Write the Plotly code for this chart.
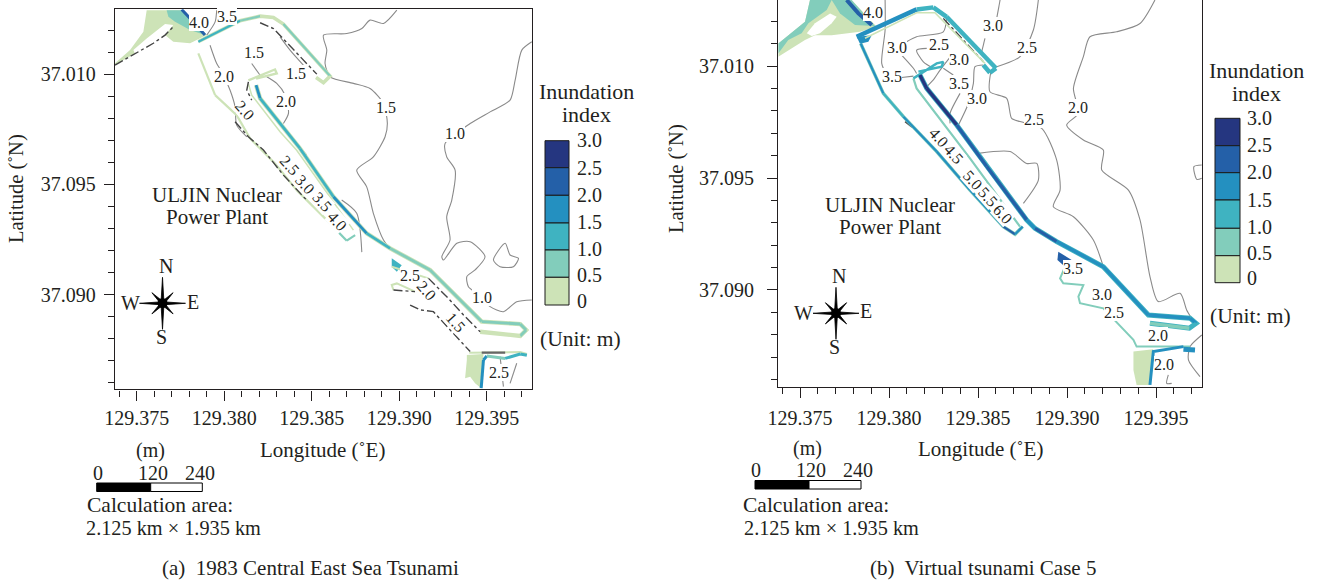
import plotly.graph_objects as go

W, H = 1319, 584
C0, C1, C2, C3, C4, C5 = '#cde3b7', '#82cdbb', '#3fb3c1', '#2490c0', '#2460a8', '#253680'
GREY = '#8a8a8a'
DARK = '#444444'
INK = '#231f20'
SERIF = 'Liberation Serif'

# ---- index legend
LEGEND_COLORS = [C5, C4, C3, C2, C1, C0]
LEGEND_LABELS = ['3.0', '2.5', '2.0', '1.5', '1.0', '0.5', '0']
X_TICKS = [129.375, 129.380, 129.385, 129.390, 129.395]
X_LABELS = ['129.375', '129.380', '129.385', '129.390', '129.395']
Y_TICKS = [37.100, 37.095, 37.090]
Y_LABELS = ['37.010', '37.095', '37.090']

# ---- panel (a): filled areas
A_HARBOR_LON = [129.37376,129.37462,129.37538,129.37557,129.37757,129.37900,129.37805,129.37709,129.37662,129.37709,129.37662,129.37557,129.37481,129.37490,129.37376]
A_HARBOR_LAT = [37.10049,37.10109,37.10192,37.10290,37.10290,37.10177,37.10140,37.10147,37.10177,37.10223,37.10227,37.10162,37.10109,37.10094,37.10041]
A_PATCH_LON = [129.37671,129.37757,129.37890,129.37805,129.37719,129.37681]
A_PATCH_LAT = [37.10290,37.10290,37.10177,37.10200,37.10238,37.10260]
A_SOUTHPATCH_LON = [129.38957,129.39014,129.38986,129.38957]
A_SOUTHPATCH_LAT = [37.09165,37.09134,37.09104,37.09127]
A_BOTTOM_LON = [129.39386,129.39481,129.39468,129.39433,129.39405,129.39376,129.39386]
A_BOTTOM_LAT = [37.08727,37.08731,37.08576,37.08598,37.08628,37.08621,37.08704]

# ---- panel (a): inundated bands
A_BLUE_LON = [129.37757,129.37823,129.37890]
A_BLUE_LAT = [37.10293,37.10238,37.10177]
A_BW_LON = [129.37852,129.38090,129.38205,129.38281,129.38338,129.38605,129.38567,129.38525]
A_BW_LAT = [37.10147,37.10242,37.10263,37.10257,37.10227,37.09991,37.09961,37.09985]
A_BW_COL = [C2,C1,C0,C0,C1,C0,C0]
A_WALL_LON = [129.37852,129.37948,129.38071,129.38148,129.38290,129.38414,129.38586,129.38700,129.38748]
A_WALL_LAT = [37.10094,37.09905,37.09814,37.09708,37.09595,37.09474,37.09338,37.09245,37.09270]
A_WALL_COL = [C0,C0,C0,C0,C0,C0,C1,C1]
A_MAIN_LON = [129.38182,129.38205,129.38433,129.38624,129.38814,129.38948,129.39176,129.39471,129.39691,129.39725,129.39691,129.39462]
A_MAIN_LAT = [37.09950,37.09890,37.09663,37.09444,37.09278,37.09210,37.09112,37.08878,37.08867,37.08840,37.08813,37.08832]
A_MAIN_COL = [C3,C2,C2,C3,C2,C1,C1,C1,C1,C1,C0]
A_HOOK_LON = [129.38138,129.38262,129.38290,129.38300,129.38182]
A_HOOK_LAT = [37.09972,37.10010,37.10021,37.10003,37.09980]
A_INNER_LON = [129.38138,129.38157,129.38319,129.38414,129.38738]
A_INNER_LAT = [37.09957,37.09905,37.09739,37.09655,37.09293]
A_LOWER_LON = [129.39400,129.39691,129.39729]
A_LOWER_LAT = [37.08737,37.08740,37.08731]
A_LOW2_LON = [129.39468,129.39481,129.39500,129.39605,129.39691,129.39729]
A_LOW2_LAT = [37.08576,37.08704,37.08722,37.08711,37.08731,37.08725]
A_LOW2_COL = [C3,C3,C1,C2,C2]
A_S1_LON = [129.38957,129.39014,129.39167]
A_S1_LAT = [37.09127,37.09112,37.09074]
A_S2_LON = [129.38967,129.38957,129.38986,129.39090]
A_S2_LAT = [37.09021,37.09044,37.09051,37.09014]

# ---- panel (a): dark shoreline fragments
A_SHORE_LON = [129.37376,129.37462,129.37595,129.37662,129.37709]
A_SHORE_LAT = [37.10041,37.10079,37.10140,37.10177,37.10215]
A_D1_LON = [129.38205,129.38281,129.38529]
A_D1_LAT = [37.10233,37.10207,37.10000]
A_D2_LON = [129.38062,129.38138,129.38224,129.38338,129.38471]
A_D2_LAT = [37.09784,37.09716,37.09656,37.09542,37.09429]
A_D3_LON = [129.38967,129.39090]
A_D3_LAT = [37.09021,37.09014]
A_D4_LON = [129.39062,129.39119,129.39195,129.39405]
A_D4_LAT = [37.08953,37.08931,37.08923,37.08742]
A_D5_LON = [129.39471,129.39605]
A_D5_LAT = [37.08737,37.08737]
A_D6_LON = [129.38138,129.38129,129.38157]
A_D6_LAT = [37.09965,37.09928,37.09882]
A_D7_LON = [129.39167,129.39281,129.39367,129.39462]
A_D7_LAT = [37.09074,37.08983,37.08908,37.08832]

# ---- panel (a): contour lines
A_C1_LON = [129.37919,129.37957,129.37986,129.38033,129.38062,129.38071,129.38129]
A_C1_LAT = [37.10131,37.10048,37.10011,37.09928,37.09852,37.09769,37.09716]
A_C2_LON = [129.38986,129.38910,129.38833,129.38786,129.38700,129.38567,129.38586,129.38576,129.38605,129.38738,129.38833,129.38910,129.38932,129.38919,129.38852,129.38757,129.38814,129.38852,129.38910,129.38948]
A_C2_LAT = [37.10290,37.10230,37.10245,37.10207,37.10184,37.10177,37.10109,37.10048,37.09988,37.09958,37.09935,37.09867,37.09776,37.09716,37.09625,37.09565,37.09489,37.09369,37.09248,37.09210]
A_C3_LON = [129.39757,129.39700,129.39662,129.39633,129.39519,129.39405,129.39262,129.39271,129.39319,129.39300,129.39271,129.39290,129.39243,129.39252,129.39329,129.39405,129.39490,129.39433,129.39386,129.39395,129.39443,129.39519,129.39595,129.39671,129.39757]
A_C3_LAT = [37.10147,37.10109,37.09973,37.09882,37.09829,37.09776,37.09686,37.09625,37.09565,37.09429,37.09353,37.09248,37.09172,37.09157,37.09233,37.09240,37.09172,37.09112,37.09082,37.09036,37.09006,37.08946,37.08923,37.08968,37.08976]
A_C4_LON = [129.39538,129.39605,129.39633,129.39681,129.39652,129.39576,129.39538]
A_C4_LAT = [37.09157,37.09233,37.09180,37.09165,37.09127,37.09127,37.09157]
A_C5_LON = [129.38157,129.38205]
A_C5_LAT = [37.10048,37.09995]
A_C6_LON = [129.38243,129.38300,129.38348,129.38367,129.38338]
A_C6_LAT = [37.09988,37.09958,37.09905,37.09822,37.09776]
A_C7_LON = [129.38319,129.38376,129.38452]
A_C7_LAT = [37.10169,37.10109,37.10041]
A_C8_LON = [129.38414,129.38471]
A_C8_LAT = [37.09686,37.09633]
A_C9_LON = [129.38671,129.38757,129.38786]
A_C9_LAT = [37.09429,37.09369,37.09193]
A_C10_LON = [129.37900,129.37948,129.37957]
A_C10_LAT = [37.10177,37.10237,37.10290]
A_C11_LON = [129.38052,129.38071]
A_C11_LAT = [37.10237,37.10290]
A_C12_LON = [129.39576,129.39595]
A_C12_LAT = [37.08719,37.08583]
A_C13_LON = [129.39671,129.39633]
A_C13_LAT = [37.08689,37.08598]

# ---- panel (a): contour labels
A_LBL_TEXT = ['4.0','3.5','1.5','2.0','1.5','2.0','1.5','1.0','2.5','1.0','2.5']
A_LBL_LON = [129.37858,129.38014,129.38170,129.37999,129.38409,129.38353,129.38923,129.39319,129.39062,129.39471,129.39567]
A_LBL_LAT = [37.10233,37.10263,37.10097,37.09988,37.10003,37.09875,37.09847,37.09731,37.09089,37.08988,37.08648]
A_ROT_TEXT = ['2.0','2.5','3.0','3.5','4.0','2.0','1.5']
A_ROT_LON = [129.38119,129.38376,129.38462,129.38557,129.38647,129.39157,129.39325]
A_ROT_LAT = [37.09837,37.09588,37.09500,37.09421,37.09331,37.09021,37.08875]

# ---- panel (b): filled areas
B_HARBOR_LON = [129.37378,129.37528,129.37556,129.37790,129.37931,129.37837,129.37678,129.37584,129.37528,129.37378]
B_HARBOR_LAT = [37.10101,37.10198,37.10295,37.10295,37.10175,37.10153,37.10138,37.10138,37.10116,37.10042]
B_PATCH_LON = [129.37678,129.37790,129.37921,129.37809,129.37725]
B_PATCH_LAT = [37.10295,37.10295,37.10179,37.10183,37.10235]
B_PATCH2_LON = [129.37378,129.37528,129.37556,129.37678,129.37650,129.37547,129.37509,129.37434,129.37378]
B_PATCH2_LAT = [37.10101,37.10198,37.10295,37.10295,37.10250,37.10191,37.10146,37.10116,37.10056]
B_ISLAND_LON = [129.37538,129.37584,129.37669,129.37706,129.37678,129.37612,129.37566]
B_ISLAND_LAT = [37.10146,37.10191,37.10235,37.10220,37.10191,37.10146,37.10134]
B_CORNER_LON = [129.37818,129.37903,129.37884,129.37837]
B_CORNER_LAT = [37.10131,37.10138,37.10108,37.10100]
B_SOUTHPATCH_LON = [129.38951,129.39026,129.38989,129.38946]
B_SOUTHPATCH_LAT = [37.09171,37.09134,37.09104,37.09134]
B_BOTTOM_LON = [129.39373,129.39485,129.39466,129.39391,129.39373]
B_BOTTOM_LAT = [37.08725,37.08735,37.08576,37.08576,37.08643]

# ---- panel (b): inundated bands
B_BLUE_LON = [129.37762,129.37828,129.37903]
B_BLUE_LAT = [37.10295,37.10235,37.10183]
B_BW_LON = [129.37818,129.38155,129.38249,129.38324,129.38601,129.38567,129.38530]
B_BW_LAT = [37.10131,37.10253,37.10262,37.10220,37.09990,37.09970,37.10005]
B_BW_COL = [C3,C2,C2,C2,C2,C2]
B_BWIN_LON = [129.37865,129.38155,129.38258,129.38539]
B_BWIN_LAT = [37.10124,37.10238,37.10238,37.10012]
B_WALL_LON = [129.37841,129.37968,129.38081,129.38268,129.38455,129.38642,129.38708,129.38751]
B_WALL_LAT = [37.10101,37.09878,37.09774,37.09618,37.09446,37.09283,37.09249,37.09283]
B_WALL_COL = [C3,C2,C3,C3,C3,C4,C3]
B_MAIN_LON = [129.38174,129.38212,129.38380,129.38549,129.38773,129.38820,129.38942,129.39204,129.39457,129.39691,129.39725,129.39687,129.39466]
B_MAIN_LAT = [37.09960,37.09900,37.09737,37.09551,37.09313,37.09275,37.09216,37.09104,37.08888,37.08874,37.08851,37.08829,37.08851]
B_MAIN_COL = [C5,C5,C4,C4,C3,C4,C3,C3,C3,C3,C2,C1]
B_INNER_LON = [129.38137,129.38155,129.38455,129.38736]
B_INNER_LAT = [37.09945,37.09900,37.09588,37.09283]
B_HOOK_LON = [129.38137,129.38268,129.38305,129.38296,129.38165]
B_HOOK_LAT = [37.09945,37.10012,37.10019,37.09997,37.09975]
B_SHORE_LON = [129.38989,129.38961,129.38979,129.39092,129.39064,129.39073,129.39204,129.39373,129.39391,129.39691]
B_SHORE_LAT = [37.09104,37.09052,37.09030,37.09022,37.08970,37.08941,37.08918,37.08777,37.08747,37.08747]
B_SPOT_LON = [129.39654,129.39719]
B_SPOT_LAT = [37.08735,37.08732]
B_LOW_LON = [129.39466,129.39485,129.39654]
B_LOW_LAT = [37.08576,37.08725,37.08747]

# ---- panel (b): dark fragments
B_D1_LON = [129.38305,129.38530]
B_D1_LAT = [37.10213,37.10019]
B_D2_LON = [129.38090,129.38137]
B_D2_LAT = [37.09752,37.09722]

# ---- panel (b): contour lines
B_C1_LON = [129.37978,129.37978,129.37959,129.37987]
B_C1_LAT = [37.10295,37.10161,37.10012,37.09960]
B_C2_LON = [129.38071,129.38137]
B_C2_LAT = [37.09949,37.09955]
B_C3_LON = [129.38071,129.38137,129.38155]
B_C3_LAT = [37.10049,37.09990,37.09967]
B_C4_LON = [129.38099,129.38155,129.38305,129.38324]
B_C4_LAT = [37.10109,37.10131,37.10153,37.10220]
B_C5_LON = [129.38212,129.38155,129.38193,129.38249]
B_C5_LAT = [37.10079,37.10071,37.10019,37.09990]
B_C6_LON = [129.38212,129.38249,129.38287,129.38352]
B_C6_LAT = [37.09908,37.09938,37.09982,37.10049]
B_C7_LON = [129.38305,129.38361]
B_C7_LAT = [37.09990,37.09960]
B_C8_LON = [129.38399,129.38343,129.38343]
B_C8_LAT = [37.09878,37.09789,37.09744]
B_C9_LON = [129.38624,129.38605]
B_C9_LAT = [37.10295,37.10213]
B_C10_LON = [129.38539,129.38521]
B_C10_LAT = [37.10124,37.10064]
B_C11_LON = [129.38530,129.38483,129.38474,129.38446,129.38390]
B_C11_LAT = [37.10005,37.09997,37.09923,37.09833,37.09737]
B_C12_LON = [129.38839,129.38811,129.38736,129.38605]
B_C12_LAT = [37.10295,37.10161,37.10042,37.09997]
B_C13_LON = [129.38571,129.38567,129.38661,129.38689,129.38736,129.38858,129.38942,129.38961,129.38923,129.39036,129.39148,129.39204]
B_C13_LAT = [37.09970,37.09885,37.09856,37.09766,37.09752,37.09722,37.09580,37.09446,37.09372,37.09327,37.09223,37.09104]
B_C14_LON = [129.39494,129.39410,129.39279,129.39129,129.39092,129.39036,129.39064,129.38998,129.39092,129.39204,129.39195,129.39345,129.39410,129.39466,129.39513,129.39635,129.39672,129.39700]
B_C14_LAT = [37.10295,37.10190,37.10153,37.10131,37.10042,37.09900,37.09789,37.09737,37.09670,37.09625,37.09536,37.09446,37.09313,37.09060,37.08948,37.08985,37.08911,37.08874]
B_C15_LON = [129.38502,129.38680,129.38773,129.38830,129.38839,129.38755]
B_C15_LAT = [37.09610,37.09618,37.09565,37.09565,37.09491,37.09387]
B_C16_LON = [129.39757,129.39713,129.39729,129.39757]
B_C16_LAT = [37.09558,37.09551,37.09494,37.09499]
B_C17_LON = [129.39757,129.39691,129.39682,129.39747]
B_C17_LAT = [37.08799,37.08747,37.08688,37.08613]
B_C18_LON = [129.39569,129.39560,129.39588]
B_C18_LAT = [37.08621,37.08583,37.08583]

# ---- panel (b): contour labels
B_LBL_TEXT = ['4.0','3.0','3.0','2.5','2.5','3.0','3.5','3.5','3.0','2.0','2.5','3.5','3.0','2.5','2.0','2.0']
B_LBL_LON = [129.37908,129.38586,129.38043,129.38281,129.38773,129.38393,129.38015,129.38393,129.38496,129.39060,129.38816,129.39032,129.39195,129.39264,129.39509,129.39545]
B_LBL_LAT = [37.10238,37.10179,37.10083,37.10097,37.10083,37.10030,37.09955,37.09920,37.09853,37.09815,37.09762,37.09097,37.08978,37.08900,37.08795,37.08665]
B_ROT_TEXT = ['4.0','4.5','5.0','5.5','6.0']
B_ROT_LON = [129.38281,129.38367,129.38474,129.38554,129.38642]
B_ROT_LAT = [37.09682,37.09607,37.09491,37.09417,37.09339]

# ---- scale bar and text
SCALE_LABELS = ['0', '120', '240']

fig = go.Figure()


def fx(x):
    return x / W


def fy(y):
    return 1 - y / H


def line(ax, lon, lat, color, width, dash='solid', shape='linear'):
    ln = dict(color=color, width=width, dash=dash, shape=shape)
    if shape == 'spline':
        ln['smoothing'] = 0.7
    fig.add_trace(go.Scatter(x=lon, y=lat, mode='lines', xaxis='x' + ax, yaxis='y' + ax,
                             line=ln, hoverinfo='skip', showlegend=False))


def segs(ax, lon, lat, cols, width):
    for i, c in enumerate(cols):
        line(ax, lon[i:i + 2], lat[i:i + 2], c, width)


def area(ax, lon, lat, color):
    fig.add_trace(go.Scatter(x=lon, y=lat, mode='lines', fill='toself', fillcolor=color,
                             xaxis='x' + ax, yaxis='y' + ax, line=dict(width=0, color=color),
                             hoverinfo='skip', showlegend=False))


annots = []
shapes = []


def text(x, y, s, size=21, angle=0, anchor='center'):
    annots.append(dict(x=fx(x), y=fy(y), xref='paper', yref='paper', text=s, showarrow=False,
                       textangle=angle, font=dict(family=SERIF, size=size, color=INK),
                       xanchor=anchor, yanchor='middle'))


def map_label(ax, lon, lat, s, angle=0):
    annots.append(dict(x=lon, y=lat, xref='x' + ax, yref='y' + ax, text=s, showarrow=False,
                       textangle=angle, font=dict(family=SERIF, size=16, color=INK),
                       bgcolor='white', borderpad=0, borderwidth=0, xanchor='center', yanchor='middle'))


def compass(cx, cy, labels):
    long_r = 26
    short_r = 15
    ins = 3.0
    p = []
    dirs = [(0, -1, long_r), (.707, -.707, short_r), (1, 0, long_r - 3), (.707, .707, short_r),
            (0, 1, long_r), (-.707, .707, short_r), (-1, 0, long_r - 3), (-.707, -.707, short_r)]
    for i, (dx, dy, r) in enumerate(dirs):
        p.append((cx + dx * r, cy + dy * r))
        nx, ny, _ = dirs[(i + 1) % 8]
        p.append((cx + (dx + nx) * ins / 1.6, cy + (dy + ny) * ins / 1.6))
    d = 'M ' + ' L '.join(f'{fx(a):.5f},{fy(b):.5f}' for a, b in p) + ' Z'
    shapes.append(dict(type='path', path=d, xref='paper', yref='paper', fillcolor='black',
                       line=dict(color='black', width=0.8)))
    shapes.append(dict(type='circle', xref='paper', yref='paper', x0=fx(cx - 5), x1=fx(cx + 5),
                       y0=fy(cy + 5), y1=fy(cy - 5), fillcolor='black', line=dict(width=0)))
    for s, (x, y) in zip('NWES', labels):
        text(x, y, s, size=20)


def legend(x0, x1, tops, lx, ly):
    for c, a, b in zip(LEGEND_COLORS, tops[:-1], tops[1:]):
        shapes.append(dict(type='rect', xref='paper', yref='paper', x0=fx(x0), x1=fx(x1), y0=fy(b), y1=fy(a),
                           fillcolor=c, line=dict(color='#1a1a1a', width=1)))
    for s, y in zip(LEGEND_LABELS, ly):
        text(lx, y, s, size=20, anchor='left')


def scale(x0, xm, x1, y0, y1, tx, ty):
    shapes.append(dict(type='rect', xref='paper', yref='paper', x0=fx(x0), x1=fx(xm), y0=fy(y1), y1=fy(y0),
                       fillcolor='black', line=dict(color='black', width=1)))
    shapes.append(dict(type='rect', xref='paper', yref='paper', x0=fx(xm), x1=fx(x1), y0=fy(y1), y1=fy(y0),
                       fillcolor='white', line=dict(color='black', width=1)))
    for s, x in zip(SCALE_LABELS, tx):
        text(x, ty, s, size=20)


# ---------- panel (a)
area('', A_HARBOR_LON, A_HARBOR_LAT, C0)
area('', A_PATCH_LON, A_PATCH_LAT, C1)
area('', A_SOUTHPATCH_LON, A_SOUTHPATCH_LAT, C2)
area('', A_BOTTOM_LON, A_BOTTOM_LAT, C0)
for lon, lat in [(A_C1_LON, A_C1_LAT), (A_C2_LON, A_C2_LAT), (A_C3_LON, A_C3_LAT), (A_C4_LON, A_C4_LAT),
                 (A_C5_LON, A_C5_LAT), (A_C6_LON, A_C6_LAT), (A_C7_LON, A_C7_LAT), (A_C8_LON, A_C8_LAT),
                 (A_C9_LON, A_C9_LAT), (A_C10_LON, A_C10_LAT), (A_C11_LON, A_C11_LAT), (A_C12_LON, A_C12_LAT),
                 (A_C13_LON, A_C13_LAT)]:
    line('', lon, lat, GREY, 1.1, shape='spline')
line('', A_BLUE_LON, A_BLUE_LAT, C4, 3)
line('', A_BW_LON, A_BW_LAT, C0, 3.6)
segs('', A_BW_LON, A_BW_LAT, A_BW_COL, 2.2)
segs('', A_WALL_LON, A_WALL_LAT, A_WALL_COL, 2.2)
line('', A_INNER_LON, A_INNER_LAT, C0, 1.5)
line('', A_HOOK_LON, A_HOOK_LAT, C0, 2.4)
line('', A_MAIN_LON, A_MAIN_LAT, C0, 4.4)
segs('', A_MAIN_LON, A_MAIN_LAT, A_MAIN_COL, 2.8)
line('', A_LOWER_LON, A_LOWER_LAT, C0, 2)
segs('', A_LOW2_LON, A_LOW2_LAT, A_LOW2_COL, 3)
line('', A_S1_LON, A_S1_LAT, C0, 2)
line('', A_S2_LON, A_S2_LAT, C0, 2)
for lon, lat in [(A_SHORE_LON, A_SHORE_LAT), (A_D1_LON, A_D1_LAT), (A_D2_LON, A_D2_LAT), (A_D3_LON, A_D3_LAT),
                 (A_D4_LON, A_D4_LAT), (A_D6_LON, A_D6_LAT), (A_D7_LON, A_D7_LAT)]:
    line('', lon, lat, DARK, 1.4, 'dashdot')
line('', A_D5_LON, A_D5_LAT, '#666666', 2.2)
for t, a, b in zip(A_LBL_TEXT, A_LBL_LON, A_LBL_LAT):
    map_label('', a, b, t)
for t, a, b in zip(A_ROT_TEXT, A_ROT_LON, A_ROT_LAT):
    map_label('', a, b, t, 48)

# ---------- panel (b)
area('2', B_HARBOR_LON, B_HARBOR_LAT, C0)
area('2', B_PATCH_LON, B_PATCH_LAT, C1)
area('2', B_PATCH2_LON, B_PATCH2_LAT, C1)
area('2', B_ISLAND_LON, B_ISLAND_LAT, 'white')
area('2', B_CORNER_LON, B_CORNER_LAT, C3)
area('2', B_SOUTHPATCH_LON, B_SOUTHPATCH_LAT, C4)
area('2', B_BOTTOM_LON, B_BOTTOM_LAT, C0)
for lon, lat in [(B_C1_LON, B_C1_LAT), (B_C2_LON, B_C2_LAT), (B_C3_LON, B_C3_LAT), (B_C4_LON, B_C4_LAT),
                 (B_C5_LON, B_C5_LAT), (B_C6_LON, B_C6_LAT), (B_C7_LON, B_C7_LAT), (B_C8_LON, B_C8_LAT),
                 (B_C9_LON, B_C9_LAT), (B_C10_LON, B_C10_LAT), (B_C11_LON, B_C11_LAT), (B_C12_LON, B_C12_LAT),
                 (B_C13_LON, B_C13_LAT), (B_C14_LON, B_C14_LAT), (B_C15_LON, B_C15_LAT), (B_C16_LON, B_C16_LAT),
                 (B_C17_LON, B_C17_LAT), (B_C18_LON, B_C18_LAT)]:
    line('2', lon, lat, GREY, 1.1, shape='spline')
line('2', B_D1_LON, B_D1_LAT, DARK, 1.4, 'dashdot')
line('2', B_D2_LON, B_D2_LAT, DARK, 1.4, 'dashdot')
line('2', B_BLUE_LON, B_BLUE_LAT, C4, 4)
segs('2', B_BW_LON, B_BW_LAT, B_BW_COL, 4.5)
line('2', B_BWIN_LON, B_BWIN_LAT, C0, 1.6)
line('2', B_WALL_LON, B_WALL_LAT, C1, 3.4)
segs('2', B_WALL_LON, B_WALL_LAT, B_WALL_COL, 2.2)
line('2', B_INNER_LON, B_INNER_LAT, C1, 2.2)
line('2', B_HOOK_LON, B_HOOK_LAT, C2, 2.4)
line('2', B_MAIN_LON, B_MAIN_LAT, C2, 5)
segs('2', B_MAIN_LON, B_MAIN_LAT, B_MAIN_COL, 3.4)
line('2', B_SHORE_LON, B_SHORE_LAT, C1, 2)
line('2', B_SPOT_LON, B_SPOT_LAT, C3, 5)
line('2', B_LOW_LON, B_LOW_LAT, C3, 3)
for t, a, b in zip(B_LBL_TEXT, B_LBL_LON, B_LBL_LAT):
    map_label('2', a, b, t)
for t, a, b in zip(B_ROT_TEXT, B_ROT_LON, B_ROT_LAT):
    map_label('2', a, b, t, 48)

# ---------- furniture
compass(162.5, 303.3, [(166, 266), (130, 303), (193, 302), (161, 337)])
compass(836, 313.3, [(839, 276), (803, 313), (866, 311), (834, 347)])
legend(545, 569, [140.7, 167.7, 195.3, 223, 250, 277.3, 305], 575,
       [140, 167.5, 195, 222, 249, 275, 301])
legend(1215, 1240, [118.3, 145.7, 172.7, 200, 228.3, 255.7, 282.7], 1245,
       [118, 145, 172, 200, 227, 253, 278])
scale(96.7, 150.7, 202.3, 483, 491.5, [98, 153, 200], 473)
scale(755, 809, 861, 480.5, 489, [756, 811, 858], 470)

for x, y, s, size, angle in [
    (586, 91, 'Inundation', 22, 0), (586, 114, 'index', 22, 0), (580, 339, '(Unit: m)', 21.5, 0),
    (1256, 70, 'Inundation', 22, 0), (1256, 93, 'index', 22, 0), (1250, 316, '(Unit: m)', 21.5, 0),
    (216.7, 195, 'ULJIN Nuclear', 21, 0), (216.7, 217, 'Power Plant', 21, 0),
    (890, 205, 'ULJIN Nuclear', 21, 0), (890, 227, 'Power Plant', 21, 0),
    (16, 189, 'Latitude (˚N)', 20.5, -90), (677, 179, 'Latitude (˚N)', 20.5, -90),
    (322, 450, 'Longitude (˚E)', 21, 0), (980, 449, 'Longitude (˚E)', 21, 0),
    (150, 450, '(m)', 20, 0), (807, 448, '(m)', 20, 0),
    (160, 505, 'Calculation area:', 21.5, 0), (816, 505, 'Calculation area:', 21.5, 0),
    (173, 528, '2.125 km × 1.935 km', 20.3, 0), (831, 528, '2.125 km × 1.935 km', 20.3, 0),
    (310, 568, '(a)  1983 Central East Sea Tsunami', 21, 0), (983, 568, '(b)  Virtual tsunami Case 5', 21, 0),
]:
    text(x, y, s, size, angle)


def xaxis(dom, rng, mirror, standoff):
    return dict(domain=dom, range=rng, showgrid=False, zeroline=False, showline=True, linecolor=INK,
                linewidth=1.4, mirror=mirror, ticks='outside', ticklen=10, tickwidth=1.2, tickcolor=INK,
                tickmode='array', tickvals=X_TICKS, ticktext=X_LABELS, ticklabelstandoff=standoff,
                tickfont=dict(family=SERIF, size=20, color=INK),
                minor=dict(ticks='outside', ticklen=6, tickwidth=1.1, tickcolor=INK, tickmode='linear',
                           tick0=129.375, dtick=0.001, showgrid=False))


def yaxis(dom, rng, anchor, standoff):
    return dict(domain=dom, range=rng, anchor=anchor, showgrid=False, zeroline=False, showline=True,
                linecolor=INK, linewidth=1.4, mirror=True, ticks='outside', ticklen=10, tickwidth=1.2,
                tickcolor=INK, tickmode='array', tickvals=Y_TICKS, ticktext=Y_LABELS, ticklabelstandoff=standoff,
                tickfont=dict(family=SERIF, size=20, color=INK),
                minor=dict(ticks='outside', ticklen=6, tickwidth=1.1, tickcolor=INK, tickmode='linear',
                           tick0=37.09, dtick=0.001, showgrid=False))


fig.update_layout(
    width=W, height=H, margin=dict(l=0, r=0, t=0, b=0, autoexpand=False), autosize=False,
    paper_bgcolor='white', plot_bgcolor='white', showlegend=False,
    xaxis=dict(xaxis([fx(115), fx(532.3)], [129.37376, 129.39760], True, 0), anchor='y'),
    yaxis=yaxis([fy(389.3), fy(9.3)], [37.08571, 37.10294], 'x', 4),
    xaxis2=dict(xaxis([fx(778.3), fx(1202.3)], [129.37378, 129.39760], False, 3), anchor='y2'),
    yaxis2=yaxis([fy(386.7), 1.0], [37.08568, 37.10295], 'x2', 9),
    annotations=annots, shapes=shapes,
)

fig.write_html("out.html", config={'displayModeBar': False},
               post_script="document.body.style.margin='0';")
